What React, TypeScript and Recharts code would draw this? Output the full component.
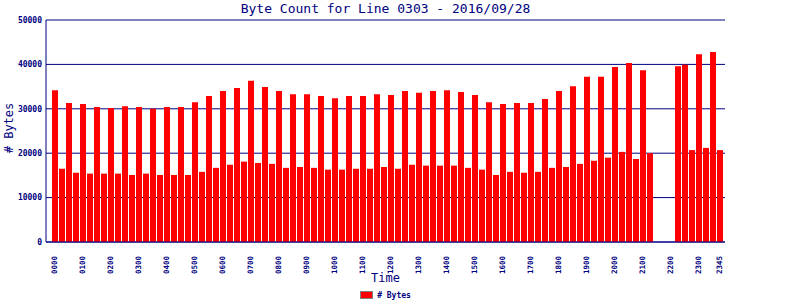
import { BarChart, Bar, XAxis, YAxis, CartesianGrid, Legend } from 'recharts'

// 15-minute slots, 0000 .. 2345
const times: string[] = []
for (let h = 0; h < 24; h++) {
  for (let m = 0; m < 60; m += 15) {
    times.push(String(h).padStart(2, '0') + String(m).padStart(2, '0'))
  }
}

const bytes: (number | null)[] = [
  34200, 16500, 31300, 15600, 31100, 15400, 30400, 15400,
  30200, 15400, 30600, 15100, 30400, 15400, 30000, 15100,
  30400, 15100, 30400, 15100, 31500, 15800, 32900, 16700,
  34000, 17400, 34700, 18100, 36300, 17800, 34900, 17600,
  34000, 16700, 33300, 16900, 33300, 16700, 32900, 16300,
  32400, 16300, 32900, 16500, 32900, 16500, 33300, 16900,
  33100, 16500, 34000, 17400, 33600, 17200, 34000, 17200,
  34200, 17200, 33800, 16700, 33100, 16300, 31500, 15100,
  31100, 15800, 31300, 15600, 31300, 15800, 32200, 16700,
  34000, 16900, 35100, 17600, 37200, 18300, 37200, 19000,
  39400, 20300, 40300, 18700, 38700, 20000, null, null,
  null, 39600, 39900, 20700, 42300, 21200, 42800, 20700,
]

const xTicks = [
  '0000', '0100', '0200', '0300', '0400', '0500', '0600', '0700',
  '0800', '0900', '1000', '1100', '1200', '1300', '1400', '1500',
  '1600', '1700', '1800', '1900', '2000', '2100', '2200', '2300', '2345',
]

const yTicks = [0, 10000, 20000, 30000, 40000, 50000]

const data = times.map((t, i) => ({ time: t, bytes: bytes[i] }))

const NAVY = '#000080'
const MONO = '"DejaVu Sans Mono", "Liberation Mono", monospace'

function TimeTick({ x, y, payload }: any) {
  return (
    <text
      x={x}
      y={y + 6}
      transform={`rotate(-90 ${x} ${y + 6})`}
      textAnchor="end"
      dy="0.35em"
      fill={NAVY}
      fontSize={7.5}
      fontWeight="bold"
      fontFamily={MONO}
    >
      {payload.value}
    </text>
  )
}

function YLabel({ viewBox }: any) {
  const cx = 9
  const cy = viewBox.y + viewBox.height / 2 - 3
  return (
    <text
      x={cx}
      y={cy}
      transform={`rotate(-90 ${cx} ${cy})`}
      textAnchor="middle"
      dy="0.35em"
      fill={NAVY}
      fontSize={12}
      fontFamily={MONO}
    >
      # Bytes
    </text>
  )
}

function LegendBox() {
  return (
    <div
      style={{
        display: 'flex',
        justifyContent: 'center',
        alignItems: 'center',
        height: 16,
        paddingTop: 6,
        boxSizing: 'border-box',
        width: 771,
      }}
    >
      <span style={{ width: 11, height: 6, background: '#ff0000', border: '1px solid #808080', marginRight: 4 }} />
      <span style={{ fontSize: 8, fontWeight: 'bold', fontFamily: MONO, color: NAVY }}># Bytes</span>
    </div>
  )
}

export default function App() {
  return (
    <div style={{ position: 'relative', width: 800, height: 300, background: '#fff' }}>
      <style>{'body{margin:0}'}</style>
      <div
        style={{
          position: 'absolute',
          top: 1,
          left: 0,
          width: 771,
          textAlign: 'center',
          fontFamily: MONO,
          fontSize: 13,
          color: NAVY,
        }}
      >
        Byte Count for Line 0303 - 2016/09/28
      </div>
      <BarChart
        width={800}
        height={300}
        data={data}
        margin={{ top: 20, right: 75, bottom: 0, left: 0 }}
        barSize={6}
      >
        <CartesianGrid vertical={false} stroke={NAVY} ticks={yTicks as any} />
        <XAxis
          dataKey="time"
          ticks={xTicks}
          interval={0}
          tick={<TimeTick />}
          tickLine={false}
          axisLine={{ stroke: NAVY }}
          height={42}
          padding={{ left: 5, right: 2 }}
          label={{ value: 'Time', position: 'insideBottom', offset: 2, fill: NAVY, fontSize: 12, fontFamily: MONO }}
        />
        <YAxis
          domain={[0, 50000]}
          ticks={yTicks}
          width={46}
          tickSize={0}
          tickMargin={4}
          tickLine={false}
          axisLine={{ stroke: NAVY }}
          tick={{ fill: NAVY, fontSize: 8, fontWeight: 'bold', fontFamily: MONO }}
          label={<YLabel />}
        />
        <YAxis
          yAxisId="right"
          orientation="right"
          width={0}
          tick={false}
          tickLine={false}
          axisLine={{ stroke: NAVY }}
        />
        <Legend verticalAlign="bottom" height={16} content={<LegendBox />} />
        <Bar dataKey="bytes" name="# Bytes" fill="#ff0000" isAnimationActive={false} />
      </BarChart>
    </div>
  )
}
